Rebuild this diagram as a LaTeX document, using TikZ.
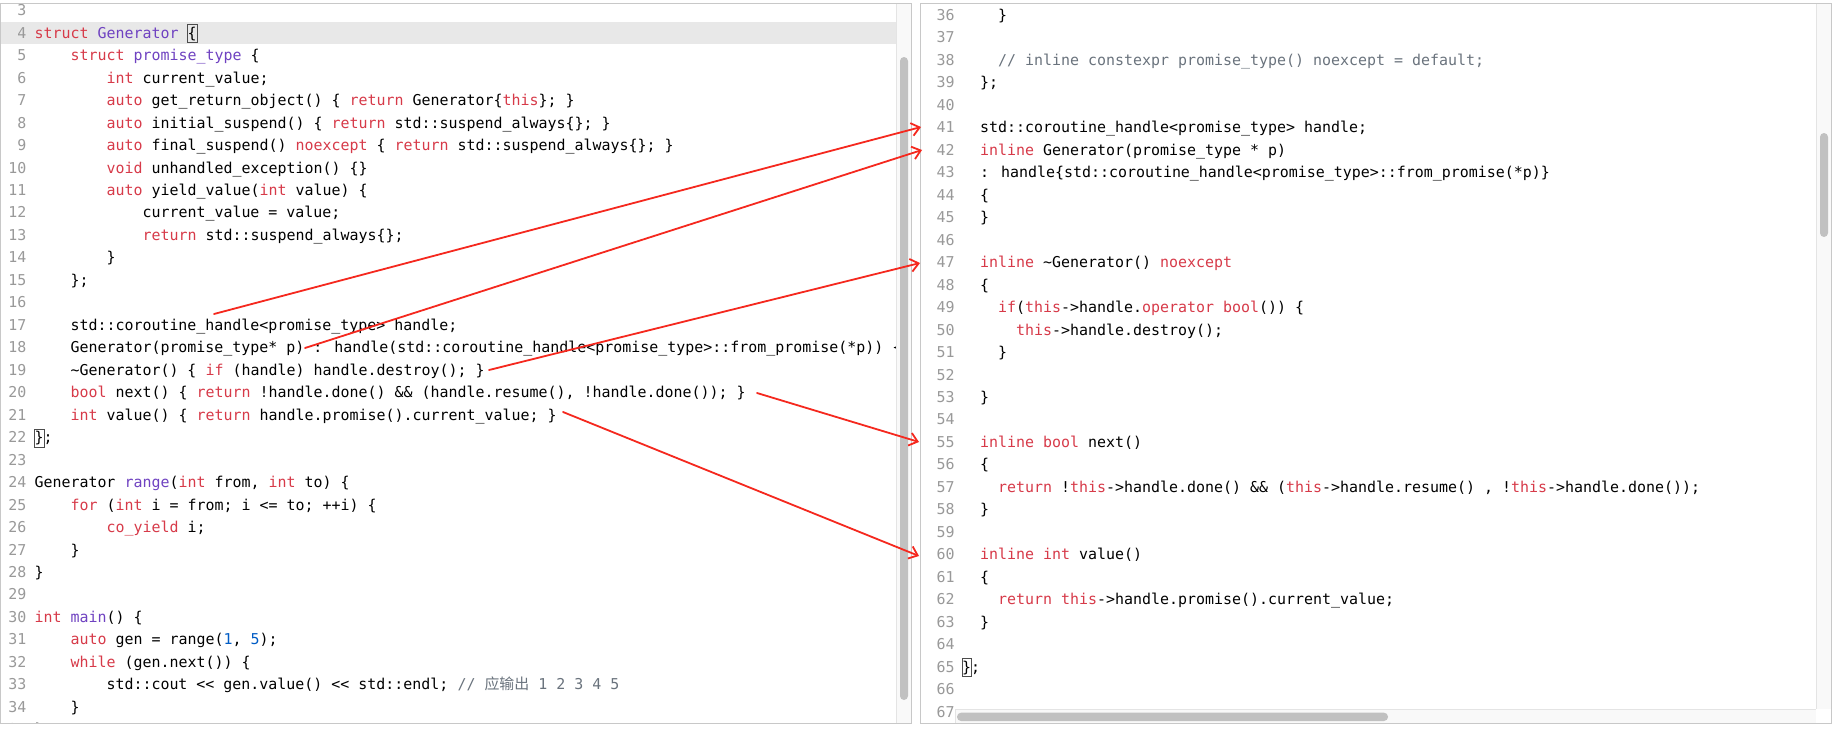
\documentclass[tikz,border=0pt]{standalone}
\usepackage{fontspec}
\usetikzlibrary{arrows.meta}
\newfontfamily\codefont{DejaVu Sans Mono}
\newfontfamily\cjk{Noto Sans CJK SC}
\definecolor{kwred}{HTML}{D73A49}
\definecolor{typur}{HTML}{6F42C1}
\definecolor{numblue}{HTML}{005CC5}
\definecolor{comgray}{HTML}{6A737D}
\definecolor{lngray}{HTML}{999999}
\definecolor{bandgray}{HTML}{E8E8E8}
\definecolor{panelborder}{HTML}{C8C8C8}
\definecolor{trackfill}{HTML}{F9F9F9}
\definecolor{trackline}{HTML}{E4E4E4}
\definecolor{thumbgray}{HTML}{C1C1C1}
\definecolor{arrred}{RGB}{245,40,30}
\newcommand\ckw[1]{\textcolor{kwred}{#1}}
\newcommand\cty[1]{\textcolor{typur}{#1}}
\newcommand\cnum[1]{\textcolor{numblue}{#1}}
\newcommand\ccom[1]{\textcolor{comgray}{#1}}
\newcommand\Lnum[1]{%
  \pgfmathsetmacro\yb{38.2+(#1-4)*22.47}%
  \node[lnum] (ln#1) at (26.4,\yb) {#1};}
\newcommand\Lline[3]{%
  \pgfmathsetmacro\yb{38.2+(#1-4)*22.47}%
  \pgfmathsetmacro\xb{34.5+#2*9}%
  \node[lnum] (ln#1) at (26.4,\yb) {#1};
  \node[code] (lc#1) at (\xb,\yb) {#3};}
\newcommand\Rnum[1]{%
  \pgfmathsetmacro\yb{20.5+(#1-36)*22.47}%
  \node[lnum] (rn#1) at (954.5,\yb) {#1};}
\newcommand\Rline[3]{%
  \pgfmathsetmacro\yb{20.5+(#1-36)*22.47}%
  \pgfmathsetmacro\xb{962+#2*9}%
  \node[lnum] (rn#1) at (954.5,\yb) {#1};
  \node[code] (rc#1) at (\xb,\yb) {#3};}
\begin{document}
\begin{tikzpicture}[x=1pt,y=-1pt,
  code/.style={anchor=base west, inner sep=0pt, outer sep=0pt,
    font=\codefont\fontsize{14.95pt}{18pt}\selectfont, text=black},
  lnum/.style={anchor=base east, inner sep=0pt, outer sep=0pt,
    font=\codefont\fontsize{14.95pt}{18pt}\selectfont, text=lngray},
  panel/.style={draw=panelborder, line width=1pt},
  track/.style={fill=trackfill, draw=trackline, line width=0.8pt},
  thumb/.style={fill=thumbgray, rounded corners=4pt, draw=none},
  matchbox/.style={draw=black!70, line width=0.8pt},
  arr/.style={draw=arrred, line width=1.8pt, line cap=round,
    -{Straight Barb[length=8pt,width=13pt]}}]
\useasboundingbox (0,0) rectangle (1836,728);
\fill[white] (0,0) rectangle (1836,728);

% ---------------- left panel ----------------
\begin{scope}
\clip (0.5,3.3) rectangle (896,723.5);
\fill[bandgray] (0.5,22) rectangle (896,44);
\Lnum{3}
\Lline{4}{0}{\ckw{struct} \cty{Generator} \{}
\Lline{5}{4}{\ckw{struct} \cty{promise\_type} \{}
\Lline{6}{8}{\ckw{int} current\_value;}
\Lline{7}{8}{\ckw{auto} get\_return\_object() \{ \ckw{return} Generator\{\ckw{this}\}; \}}
\Lline{8}{8}{\ckw{auto} initial\_suspend() \{ \ckw{return} std::suspend\_always\{\}; \}}
\Lline{9}{8}{\ckw{auto} final\_suspend() \ckw{noexcept} \{ \ckw{return} std::suspend\_always\{\}; \}}
\Lline{10}{8}{\ckw{void} unhandled\_exception() \{\}}
\Lline{11}{8}{\ckw{auto} yield\_value(\ckw{int} value) \{}
\Lline{12}{12}{current\_value = value;}
\Lline{13}{12}{\ckw{return} std::suspend\_always\{\};}
\Lline{14}{8}{\}}
\Lline{15}{4}{\};}
\Lnum{16}
\Lline{17}{4}{std::coroutine\_handle<promise\_type> handle;}
\Lline{18}{4}{Generator(promise\_type* p) : handle(std::coroutine\_handle<promise\_type>::from\_promise(*p)) \{\}}
\Lline{19}{4}{\textasciitilde Generator() \{ \ckw{if} (handle) handle.destroy(); \}}
\Lline{20}{4}{\ckw{bool} next() \{ \ckw{return} !handle.done() \&\& (handle.resume(), !handle.done()); \}}
\Lline{21}{4}{\ckw{int} value() \{ \ckw{return} handle.promise().current\_value; \}}
\Lline{22}{0}{\};}
\Lnum{23}
\Lline{24}{0}{Generator \cty{range}(\ckw{int} from, \ckw{int} to) \{}
\Lline{25}{4}{\ckw{for} (\ckw{int} i = from; i <= to; ++i) \{}
\Lline{26}{8}{\ckw{co\_yield} i;}
\Lline{27}{4}{\}}
\Lline{28}{0}{\}}
\Lnum{29}
\Lline{30}{0}{\ckw{int} \cty{main}() \{}
\Lline{31}{4}{\ckw{auto} gen = range(\cnum{1}, \cnum{5});}
\Lline{32}{4}{\ckw{while} (gen.next()) \{}
\Lline{33}{8}{std::cout <{}< gen.value() <{}< std::endl; \ccom{// {\cjk 应输出} 1 2 3 4 5}}
\Lline{34}{4}{\}}
\Lline{35}{0}{\}}
\draw[matchbox] (187.5,24.5) rectangle (197,42.5);
\draw[matchbox] (34.5,429) rectangle (44,447);
\end{scope}
\draw[track] (896,3.3) rectangle (911.7,723.5);
\fill[thumb] (900,57) rectangle (908,700);
\draw[panel] (0.5,3.3) rectangle (911.7,723.5);

% ---------------- right panel ----------------
\begin{scope}
\clip (920.7,3.3) rectangle (1816,723.5);
\Rline{36}{4}{\}}
\Rnum{37}
\Rline{38}{4}{\ccom{// inline constexpr promise\_type() noexcept = default;}}
\Rline{39}{2}{\};}
\Rnum{40}
\Rline{41}{2}{std::coroutine\_handle<promise\_type> handle;}
\Rline{42}{2}{\ckw{inline} Generator(promise\_type * p)}
\Rline{43}{2}{: handle\{std::coroutine\_handle<promise\_type>::from\_promise(*p)\}}
\Rline{44}{2}{\{}
\Rline{45}{2}{\}}
\Rnum{46}
\Rline{47}{2}{\ckw{inline} \textasciitilde Generator() \ckw{noexcept}}
\Rline{48}{2}{\{}
\Rline{49}{4}{\ckw{if}(\ckw{this}->handle.\ckw{operator} \ckw{bool}()) \{}
\Rline{50}{6}{\ckw{this}->handle.destroy();}
\Rline{51}{4}{\}}
\Rnum{52}
\Rline{53}{2}{\}}
\Rnum{54}
\Rline{55}{2}{\ckw{inline} \ckw{bool} next()}
\Rline{56}{2}{\{}
\Rline{57}{4}{\ckw{return} !\ckw{this}->handle.done() \&\& (\ckw{this}->handle.resume() , !\ckw{this}->handle.done());}
\Rline{58}{2}{\}}
\Rnum{59}
\Rline{60}{2}{\ckw{inline} \ckw{int} value()}
\Rline{61}{2}{\{}
\Rline{62}{4}{\ckw{return} \ckw{this}->handle.promise().current\_value;}
\Rline{63}{2}{\}}
\Rnum{64}
\Rline{65}{0}{\};}
\Rnum{66}
\Rnum{67}
\draw[matchbox] (962,658.5) rectangle (971.5,676.5);
\end{scope}
\draw[track] (1816,3.3) rectangle (1831,709);
\fill[thumb] (1820,133) rectangle (1828,237);
\draw[track] (955,709) rectangle (1816,723.5);
\fill[thumb] (957,712.7) rectangle (1388,721);
\fill[white] (1816.4,709.4) rectangle (1830.6,723.1);
\draw[panel] (920.7,3.3) rectangle (1831,723.5);

% ---------------- arrows ----------------
\coordinate (s1) at (214,314);   \coordinate (e1) at (921,127);
\coordinate (s2) at (305,348);   \coordinate (e2) at (922,150);
\coordinate (s3) at (489,370);   \coordinate (e3) at (920,263);
\coordinate (s4) at (757,393);   \coordinate (e4) at (919,442);
\coordinate (s5) at (563,412);   \coordinate (e5) at (919,556);
\draw[arr] (s1) -- (e1);
\draw[arr] (s2) -- (e2);
\draw[arr] (s3) -- (e3);
\draw[arr] (s4) -- (e4);
\draw[arr] (s5) -- (e5);
\end{tikzpicture}
\end{document}
